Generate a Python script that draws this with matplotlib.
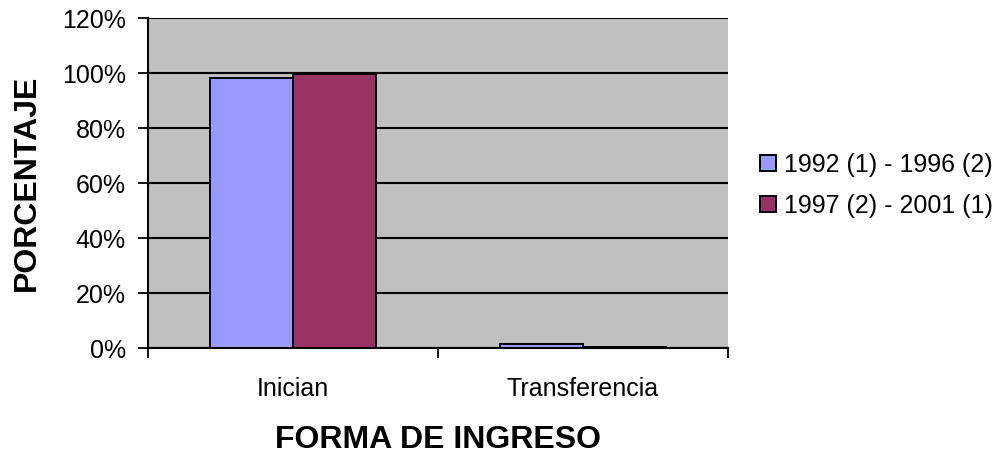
import matplotlib
matplotlib.use("Agg")
import matplotlib.pyplot as plt
import numpy as np

categories = ["Inician", "Transferencia"]
series_names = ["1992 (1) - 1996 (2)", "1997 (2) - 2001 (1)"]
s1 = [98.4, 1.6]
s2 = [99.6, 0.4]
colors = ["#9999FF", "#993366"]
yticks = [0, 20, 40, 60, 80, 100, 120]

plt.rcParams['font.family'] = ['Liberation Sans', 'DejaVu Sans']

fig = plt.figure(figsize=(10, 4.55), dpi=100)
ax = fig.add_axes([0.148, 0.235, 0.58, 0.725])
ax.set_facecolor("#C0C0C0")

x = np.arange(len(categories))
w = 2 / 7
b1 = ax.bar(x - w / 2, s1, w, color=colors[0], edgecolor="black", linewidth=1.4, label=series_names[0], zorder=3)
b2 = ax.bar(x + w / 2, s2, w, color=colors[1], edgecolor="black", linewidth=1.4, label=series_names[1], zorder=3)

ax.set_xlim(-0.5, 1.5)
ax.set_ylim(0, 120)
ax.set_yticks(yticks)
ax.set_yticklabels([f"{v}%" for v in yticks])
ax.yaxis.grid(True, color="black", linewidth=1.5, zorder=1)
ax.set_axisbelow(True)

ax.set_xticks([-0.5, 0.5, 1.5])
ax.set_xticklabels([])
ax.set_xticks(x, minor=True)
ax.set_xticklabels(categories, minor=True)
ax.tick_params(axis='x', which='minor', length=0, labelsize=18, pad=21)
ax.tick_params(axis='x', which='major', length=7, width=1.3, direction='out')
ax.tick_params(axis='y', length=7, width=1.3, direction='out', labelsize=18, pad=9)

for s in ["top", "right"]:
    ax.spines[s].set_visible(False)
for s in ["left", "bottom"]:
    ax.spines[s].set_linewidth(1.5)

ax.set_ylabel("PORCENTAJE", fontsize=23, fontweight="bold", labelpad=14)
ax.set_xlabel("FORMA DE INGRESO", fontsize=23, fontweight="bold", labelpad=17)

leg = fig.legend(handles=[b1, b2], labels=series_names, loc="center left",
                 bbox_to_anchor=(0.760, 0.593), frameon=False, fontsize=18,
                 handlelength=0.64, handleheight=0.64, handletextpad=0.32, labelspacing=0.68,
                 borderpad=0, borderaxespad=0)

fig.savefig("out.png", dpi=100)
